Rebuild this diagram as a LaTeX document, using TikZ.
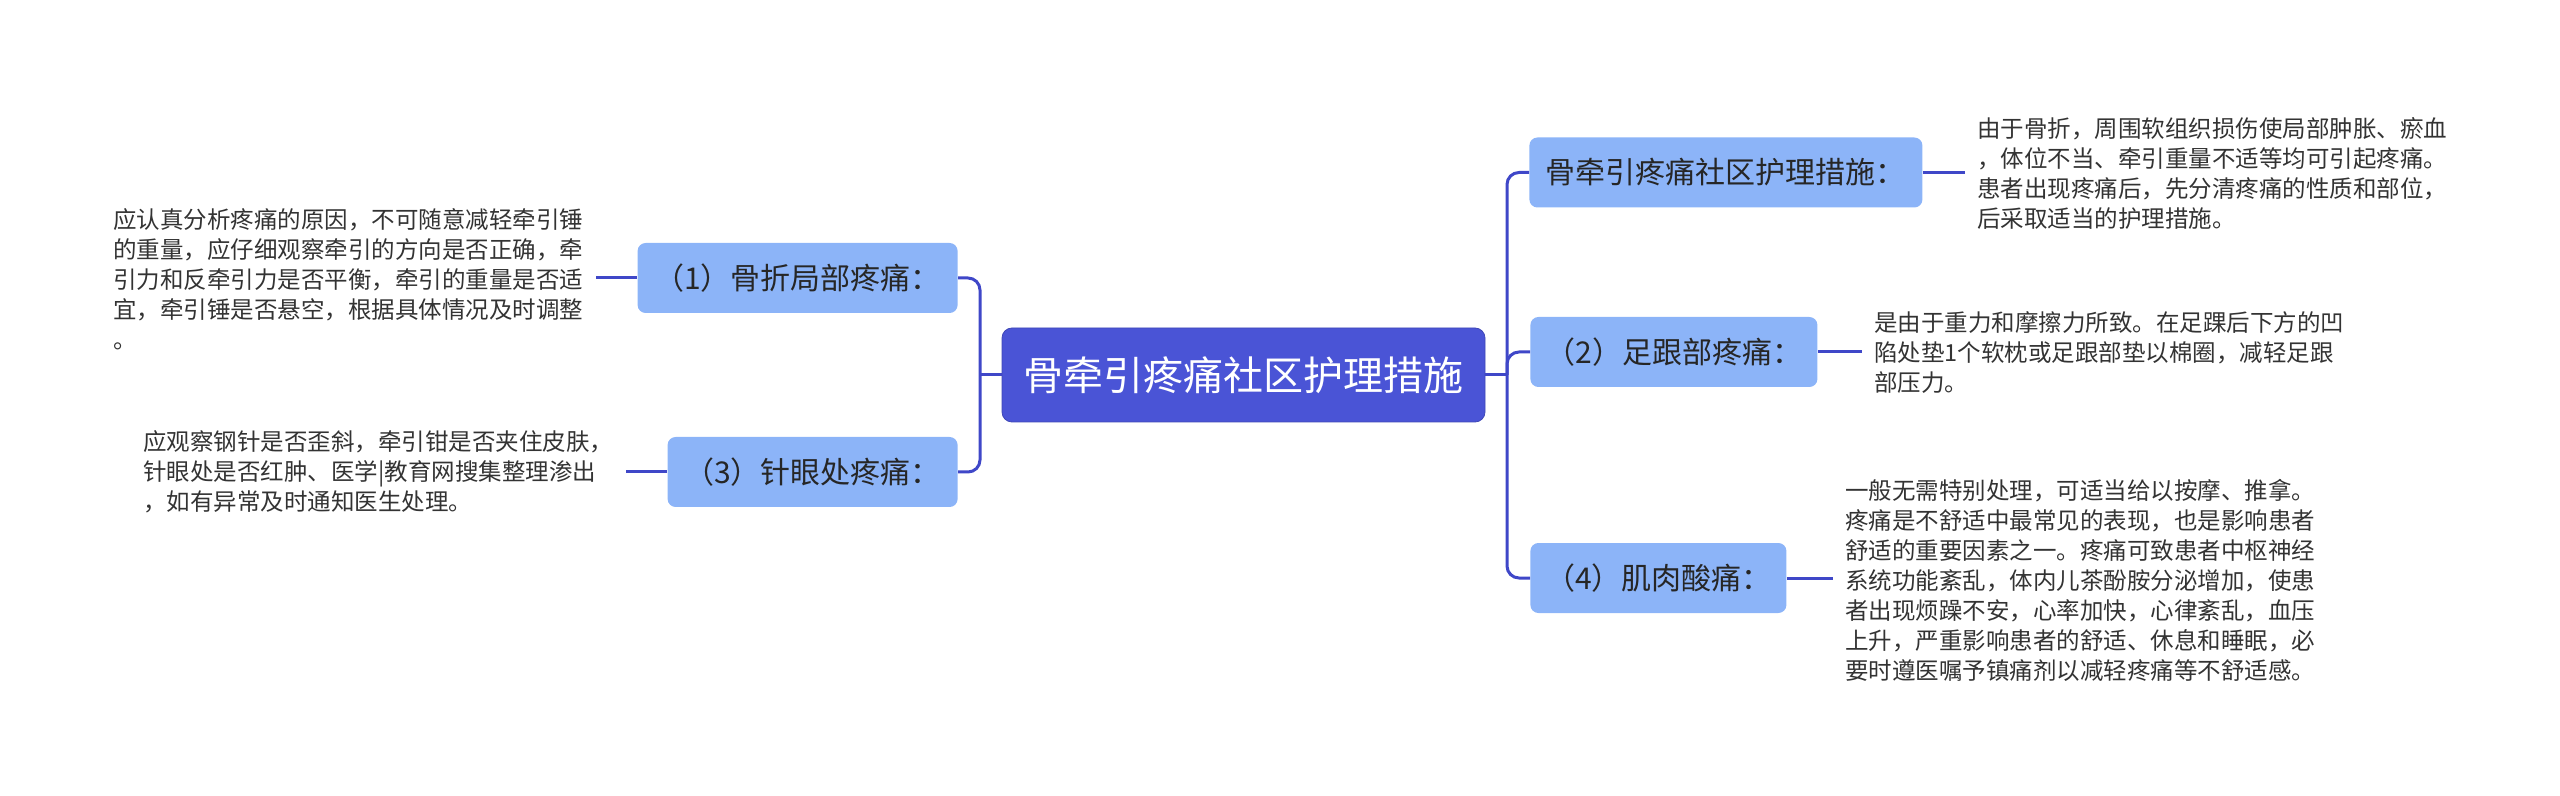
\documentclass[tikz,border=0pt]{standalone}
\usepackage{fontspec}
\setmainfont{Noto Sans CJK SC}
\usetikzlibrary{positioning,calc}
\definecolor{rootblue}{HTML}{4A54D6}
\definecolor{topicblue}{HTML}{8CB4F8}
\definecolor{linkblue}{HTML}{3F47C8}
\definecolor{txtdark}{HTML}{262626}
\definecolor{txtgrey}{HTML}{333333}
\tikzset{
  root/.style ={fill=rootblue, draw=rootblue!85!black, rounded corners=5pt,
                text=white, font=\fontsize{20pt}{24pt}\selectfont,
                minimum height=47pt, minimum width=241.5pt},
  topic/.style={fill=topicblue, rounded corners=4pt, text=txtdark,
                font=\fontsize{15pt}{18pt}\selectfont, minimum height=35pt},
  desc/.style ={align=left, inner sep=0pt, text=txtgrey,
                font=\fontsize{11.75pt}{15pt}\selectfont},
  link/.style ={draw=linkblue, line width=1.5pt, rounded corners=6pt},
}

\begin{document}
\begin{tikzpicture}[x=0.5pt,y=-0.5pt]
  \useasboundingbox (0,0) rectangle (2560,796);

  \node[root](root) at (1243.5,375){骨牵引疼痛社区护理措施};

  % left branches
  \node[topic, anchor=east, minimum width=160pt](n1) at (958,278){（1）骨折局部疼痛：};
  \node[topic, anchor=east, minimum width=145pt](n3) at (958,472){（3）针眼处疼痛：};

  % right branches
  \node[topic, anchor=west, minimum width=196.5pt](t1) at (1529,172.5){骨牵引疼痛社区护理措施：};
  \node[topic, anchor=west, minimum width=143.5pt](n2) at (1530,352){（2）足跟部疼痛：};
  \node[topic, anchor=west, minimum width=128pt](n4) at (1530,578){（4）肌肉酸痛：};

  % descriptions
  \node[desc, anchor=west](d1) at (113,279)
       {应认真分析疼痛的原因，不可随意减轻牵引锤\\
        的重量，应仔细观察牵引的方向是否正确，牵\\
        引力和反牵引力是否平衡，牵引的重量是否适\\
        宜，牵引锤是否悬空，根据具体情况及时调整\\
        。};
  \node[desc, anchor=west](d3) at (143,472)
       {应观察钢针是否歪斜，牵引钳是否夹住皮肤，\\
        针眼处是否红肿、医学|教育网搜集整理渗出\\
        ，如有异常及时通知医生处理。};
  \node[desc, anchor=west](dt) at (1977,173)
       {由于骨折，周围软组织损伤使局部肿胀、瘀血\\
        ，体位不当、牵引重量不适等均可引起疼痛。\\
        患者出现疼痛后，先分清疼痛的性质和部位，\\
        后采取适当的护理措施。};
  \node[desc, anchor=west](d2) at (1874,353)
       {是由于重力和摩擦力所致。在足踝后下方的凹\\
        陷处垫1个软枕或足跟部垫以棉圈，减轻足跟\\
        部压力。};
  \node[desc, anchor=west](d4) at (1845,580)
       {一般无需特别处理，可适当给以按摩、推拿。\\
        疼痛是不舒适中最常见的表现，也是影响患者\\
        舒适的重要因素之一。疼痛可致患者中枢神经\\
        系统功能紊乱，体内儿茶酚胺分泌增加，使患\\
        者出现烦躁不安，心率加快，心律紊乱，血压\\
        上升，严重影响患者的舒适、休息和睡眠，必\\
        要时遵医嘱予镇痛剂以减轻疼痛等不舒适感。};

  \coordinate(jl) at (980,375);
  \coordinate(jr) at (1507,375);

  \draw[link](root.west) -- (jl);
  \draw[link](n1.east) -| (jl) |- (n3.east);
  \draw[link](root.east) -- (jr);
  \draw[link](t1.west) -| (jr) |- (n4.west);
  \draw[link](n2.west) -| (jr);

  \draw[link](n1.west) -- (n1.west -| {$(d1.east)+(12,0)$});
  \draw[link](n3.west) -- (n3.west -| {$(d3.east)+(12,0)$});
  \draw[link](t1.east) -- (t1.east -| {$(dt.west)+(-12,0)$});
  \draw[link](n2.east) -- (n2.east -| {$(d2.west)+(-12,0)$});
  \draw[link](n4.east) -- (n4.east -| {$(d4.west)+(-12,0)$});
\end{tikzpicture}
\end{document}
